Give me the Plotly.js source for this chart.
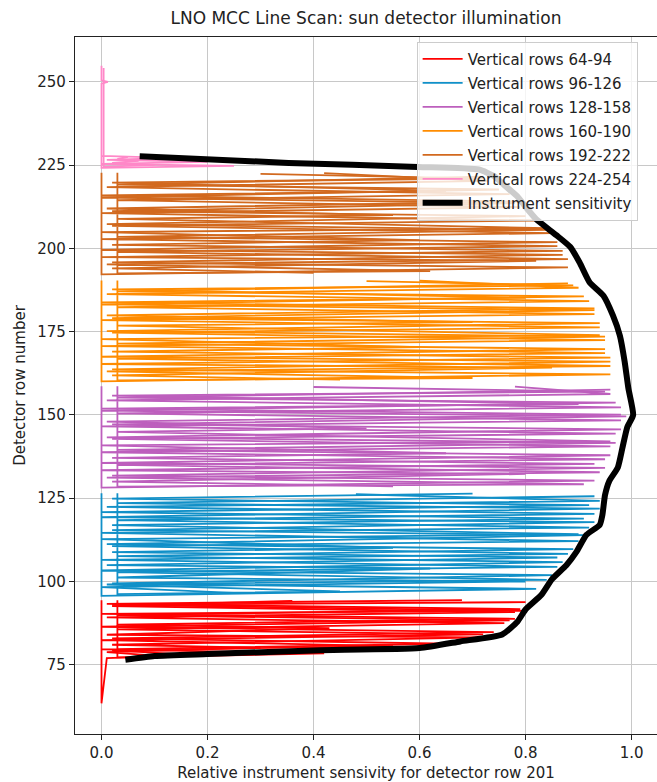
<!DOCTYPE html>
<html>
<head>
<meta charset="utf-8">
<script src="https://cdn.plot.ly/plotly-3.0.1.min.js"></script>
<style>html,body{margin:0;padding:0;background:#fff;overflow:hidden}#chart{width:657px;height:782px}</style>
</head>
<body>
<div id="chart"></div>
<script>
// Series names and colours
const groupNames = ["Vertical rows 64-94","Vertical rows 96-126","Vertical rows 128-158","Vertical rows 160-190","Vertical rows 192-222","Vertical rows 224-254"];
const groupColors = ["#ff0000","#1190c8","#bd5fbd","#ff8c00","#d2691e","#ff88c8"];
const envelopeName = "Instrument sensitivity";

// Red: rows 64-94
const redRowsA = [94.4, 63.4, 77.0, 77.9, 79.3, 80.6, 82.4, 84.1, 85.6, 87.5, 89.2, 90.8, 92.6, 94.2];
const redSensA = [0.0, 0.0, 0.01, 0.18, 0.02, 0.55, 0.0, 0.72, 0.03, 0.76, 0.01, 0.78, 0.02, 0.36];
const redRowsB = [94.4, 77.2, 78.4, 79.6, 81.3, 82.9, 84.8, 86.4, 88.3, 89.9, 91.7, 93.3, 94.4];
const redSensB = [0.03, 0.03, 0.42, 0.0, 0.66, 0.02, 0.74, 0.0, 0.77, 0.03, 0.79, 0.01, 0.68];
const redRowsC = [77.5, 78.8, 80.1, 81.0, 83.2, 84.0, 86.0, 87.0, 88.8, 90.3, 91.2, 93.0, 93.8];
const redSensC = [0.12, 0.01, 0.30, 0.02, 0.72, 0.01, 0.43, 0.03, 0.78, 0.0, 0.80, 0.02, 0.80];

// Blue: rows 96-126
const blueRowsA = [126.5, 95.7, 97.8, 99.4, 101.9, 103.3, 105.8, 107.6, 109.7, 111.2, 113.9, 115.4, 117.8, 119.3, 121.9, 123.5, 125.6];
const blueSensA = [0.0, 0.0, 0.82, 0.02, 0.85, 0.0, 0.87, 0.03, 0.89, 0.01, 0.91, 0.02, 0.93, 0.0, 0.94, 0.03, 0.93];
const blueRowsB = [126.5, 96.2, 97.0, 99.1, 100.5, 102.8, 104.4, 106.5, 108.3, 110.6, 112.1, 114.6, 116.2, 118.4, 120.3, 122.4, 124.2, 126.2];
const blueSensB = [0.03, 0.03, 0.45, 0.01, 0.84, 0.03, 0.86, 0.0, 0.88, 0.02, 0.90, 0.0, 0.92, 0.03, 0.93, 0.01, 0.94, 0.48];
const blueRowsC = [96.6, 98.3, 100.0, 101.2, 103.9, 104.9, 107.2, 108.8, 110.1, 112.7, 114.2, 116.9, 118.9, 120.8, 122.9, 124.9, 126.4];
const blueSensC = [0.25, 0.0, 0.80, 0.03, 0.62, 0.01, 0.86, 0.02, 0.55, 0.0, 0.90, 0.02, 0.91, 0.0, 0.92, 0.02, 0.70];

// Purple: rows 128-158
const purpleRowsA = [158.6, 128.2, 130.3, 131.8, 134.1, 135.6, 137.9, 139.5, 141.6, 143.3, 145.7, 147.2, 149.6, 151.3, 153.7, 155.2, 157.6];
const purpleSensA = [0.0, 0.0, 0.93, 0.02, 0.95, 0.0, 0.96, 0.03, 0.97, 0.01, 0.98, 0.02, 0.99, 0.0, 0.97, 0.03, 0.96];
const purpleRowsB = [158.6, 128.5, 129.2, 131.2, 132.8, 135.0, 136.7, 138.8, 140.6, 142.8, 144.4, 146.6, 148.4, 150.5, 152.3, 154.4, 156.3, 158.5];
const purpleSensB = [0.03, 0.03, 0.91, 0.01, 0.94, 0.03, 0.95, 0.0, 0.96, 0.02, 0.97, 0.0, 0.98, 0.03, 0.98, 0.01, 0.96, 0.78];
const purpleRowsC = [128.6, 130.0, 132.3, 133.4, 135.3, 137.1, 138.5, 140.9, 142.1, 144.9, 146.0, 148.0, 150.1, 151.9, 153.3, 155.8, 157.0, 158.4];
const purpleSensC = [0.55, 0.02, 0.80, 0.0, 0.93, 0.02, 0.65, 0.0, 0.96, 0.03, 0.50, 0.01, 0.98, 0.0, 0.90, 0.02, 0.95, 0.40];

// Orange: rows 160-190
const orangeRowsA = [190.4, 160.1, 162.2, 163.7, 166.0, 167.5, 169.8, 171.4, 173.5, 175.2, 177.6, 179.1, 181.5, 183.2, 185.6, 187.1, 189.5];
const orangeSensA = [0.0, 0.0, 0.96, 0.02, 0.96, 0.0, 0.95, 0.03, 0.95, 0.01, 0.94, 0.02, 0.93, 0.0, 0.91, 0.03, 0.88];
const orangeRowsB = [190.4, 160.4, 161.1, 163.1, 164.7, 166.9, 168.6, 170.7, 172.5, 174.7, 176.3, 178.5, 180.3, 182.4, 184.2, 186.3, 188.2, 190.3];
const orangeSensB = [0.03, 0.03, 0.70, 0.01, 0.96, 0.03, 0.95, 0.0, 0.95, 0.02, 0.94, 0.0, 0.93, 0.03, 0.92, 0.01, 0.90, 0.60];
const orangeRowsC = [160.6, 161.9, 164.2, 165.3, 167.2, 169.0, 170.4, 172.8, 174.0, 176.8, 177.9, 179.9, 182.0, 183.8, 185.2, 187.7, 188.9, 190.2];
const orangeSensC = [0.45, 0.02, 0.85, 0.0, 0.96, 0.02, 0.60, 0.0, 0.94, 0.03, 0.70, 0.01, 0.93, 0.0, 0.80, 0.02, 0.89, 0.50];

// Brown: rows 192-222
const brownRowsA = [222.7, 192.2, 194.3, 195.8, 198.1, 199.6, 201.9, 203.5, 205.6, 207.3, 209.7, 211.2, 213.6, 215.3, 217.7, 219.2, 221.6];
const brownSensA = [0.0, 0.0, 0.88, 0.02, 0.87, 0.0, 0.86, 0.03, 0.84, 0.01, 0.80, 0.02, 0.78, 0.0, 0.75, 0.03, 0.72];
const brownRowsB = [222.7, 192.5, 193.2, 195.2, 196.8, 199.0, 200.7, 202.8, 204.6, 206.8, 208.4, 210.6, 212.4, 214.5, 216.3, 218.4, 220.3, 222.6];
const brownSensB = [0.03, 0.03, 0.62, 0.01, 0.88, 0.03, 0.86, 0.0, 0.85, 0.02, 0.82, 0.0, 0.79, 0.03, 0.77, 0.01, 0.73, 0.42];
const brownRowsC = [192.7, 194.0, 196.3, 197.4, 199.3, 201.1, 202.5, 204.9, 206.1, 208.9, 210.0, 212.0, 214.1, 215.9, 217.3, 219.8, 221.0, 222.4];
const brownSensC = [0.40, 0.02, 0.82, 0.0, 0.87, 0.02, 0.60, 0.0, 0.84, 0.03, 0.55, 0.01, 0.79, 0.0, 0.65, 0.02, 0.72, 0.30];

// Pink: rows 224-254
const pinkRowsA = [254.9, 250.5, 250.0, 249.5, 224.2, 224.8, 225.4, 226.0, 226.6, 227.2, 227.8];
const pinkSensA = [0.0, 0.0, 0.012, 0.0, 0.0, 0.25, 0.0, 0.20, 0.01, 0.13, 0.0];
const pinkRowsB = [254.2, 224.5, 225.1, 225.7, 226.3, 226.9, 227.5];
const pinkSensB = [0.004, 0.004, 0.10, 0.02, 0.07, 0.03, 0.05];

// Instrument sensitivity envelope
const envRows = [76.5, 77.6, 78.2, 79.3, 80.0, 82.0, 84.1, 88.0, 91.6, 96.0, 100.7, 104.9, 108.9, 114.0, 117.0, 120.0, 126.0, 130.2, 134.2, 140.3, 146.4, 150.0, 158.0, 166.0, 173.8, 179.8, 185.8, 189.8, 195.8, 200.5, 204.0, 208.8, 212.5, 215.7, 219.0, 221.7, 223.7, 224.5, 225.7, 227.7];
const envSens = [0.045, 0.10, 0.20, 0.40, 0.60, 0.677, 0.756, 0.785, 0.80, 0.83, 0.85, 0.877, 0.896, 0.915, 0.94, 0.945, 0.95, 0.958, 0.974, 0.983, 0.992, 1.003, 0.994, 0.987, 0.978, 0.965, 0.947, 0.921, 0.902, 0.884, 0.858, 0.82, 0.80, 0.784, 0.76, 0.741, 0.712, 0.597, 0.353, 0.072];

// Axis ticks
const xTicks = [0.0, 0.2, 0.4, 0.6, 0.8, 1.0];
const xTickText = ["0.0", "0.2", "0.4", "0.6", "0.8", "1.0"];
const yTicks = [75, 100, 125, 150, 175, 200, 225, 250];

const groups = [
  [[redSensA, redRowsA], [redSensB, redRowsB], [redSensC, redRowsC]],
  [[blueSensA, blueRowsA], [blueSensB, blueRowsB], [blueSensC, blueRowsC]],
  [[purpleSensA, purpleRowsA], [purpleSensB, purpleRowsB], [purpleSensC, purpleRowsC]],
  [[orangeSensA, orangeRowsA], [orangeSensB, orangeRowsB], [orangeSensC, orangeRowsC]],
  [[brownSensA, brownRowsA], [brownSensB, brownRowsB], [brownSensC, brownRowsC]],
  [[pinkSensA, pinkRowsA], [pinkSensB, pinkRowsB]]
];

const traces = [];
groups.forEach((g, gi) => {
  g.forEach((s, si) => {
    traces.push({
      type: 'scatter', mode: 'lines',
      x: s[0], y: s[1],
      name: groupNames[gi],
      legendgroup: 'g' + gi,
      showlegend: si === 0,
      line: {color: groupColors[gi], width: 1.8},
      hoverinfo: 'skip'
    });
  });
});
traces.push({
  type: 'scatter', mode: 'lines',
  x: envSens, y: envRows,
  name: envelopeName,
  legendgroup: 'env',
  line: {color: '#000000', width: 6, shape: 'spline', smoothing: 0.5},
  hoverinfo: 'skip'
});

const font = 'DejaVu Sans, sans-serif';
const layout = {
  width: 657, height: 782,
  margin: {l: 75, r: 0, t: 37, b: 48},
  paper_bgcolor: '#ffffff', plot_bgcolor: '#ffffff',
  font: {family: font, size: 15, color: '#222222'},
  title: {text: 'LNO MCC Line Scan: sun detector illumination', font: {family: font, size: 17, color: '#222222'},
          x: 0.5, xref: 'paper', xanchor: 'center', y: 1 - 18/782, yref: 'container', yanchor: 'middle'},
  xaxis: {
    range: [-0.05, 1.048], tickvals: xTicks, ticktext: xTickText,
    showgrid: true, gridcolor: '#c8c8c8', gridwidth: 1,
    zeroline: false, showline: true, linecolor: '#222222', linewidth: 1.2, mirror: true,
    ticks: 'outside', ticklen: 5, tickcolor: '#222222',
    tickfont: {family: font, size: 15, color: '#222222'},
    title: {text: 'Relative instrument sensivity for detector row 201', font: {family: font, size: 15, color: '#222222'}, standoff: 6}
  },
  yaxis: {
    range: [54.2, 263.5], tickvals: yTicks,
    showgrid: true, gridcolor: '#c8c8c8', gridwidth: 1,
    zeroline: false, showline: true, linecolor: '#222222', linewidth: 1.2, mirror: false,
    ticks: 'outside', ticklen: 5, tickcolor: '#222222',
    tickfont: {family: font, size: 15, color: '#222222'},
    title: {text: 'Detector row number', font: {family: font, size: 15, color: '#222222'}, standoff: 8}
  },
  legend: {
    x: 0.587, y: 0.9935, xanchor: 'left', yanchor: 'top',
    bgcolor: 'rgba(255,255,255,0.8)', bordercolor: '#cccccc', borderwidth: 1,
    font: {family: font, size: 15, color: '#222222'},
    traceorder: 'grouped', tracegroupgap: 1.5, itemwidth: 40
  },
  showlegend: true
};

Plotly.newPlot('chart', traces, layout, {staticPlot: true, displayModeBar: false});
</script>
</body>
</html>
